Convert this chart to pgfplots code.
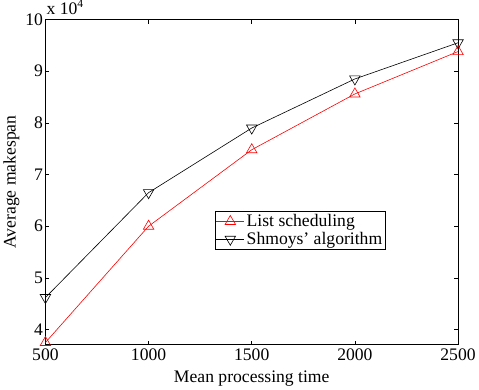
\documentclass[border=0pt]{standalone}
\usepackage{pgfplots}
\pgfplotsset{compat=1.18}
\usepackage{fontspec}
\setmainfont{Liberation Serif}
\newcommand{\f}{\fontsize{17.5}{20}\selectfont}
\begin{document}
\begin{tikzpicture}
\begin{axis}[
  scale only axis,
  width=410pt, height=323pt,
  xmin=500, xmax=2500,
  ymin=37100, ymax=100000,
  scaled x ticks=false, scaled y ticks=false,
  xtick={500,1000,1500,2000,2500},
  xticklabels={500,1000,1500,2000,2500},
  ytick={40000,50000,60000,70000,80000,90000,100000},
  yticklabels={4,5,6,7,8,9,10},
  tick label style={font=\f},
  label style={font=\f},
  tick align=inside,
  major tick length=4pt,
  axis line style={line width=0.9pt},
  tick style={line width=0.6pt, black},
  xlabel={Mean processing time},
  ylabel={Average makespan},
  xlabel style={yshift=-3pt},
  ylabel style={yshift=-1pt},
  yticklabel style={xshift=1pt},
  xticklabel style={yshift=-1pt},
  legend style={at={(0.41,0.41)}, anchor=north west, draw=black, line width=0.6pt, inner sep=1pt, row sep=0pt, font=\f},
  legend cell align=left,
  legend image code/.code={\draw[mark repeat=2,mark phase=2,#1] plot coordinates {(0pt,0pt) (14pt,0pt) (28pt,0pt)};},
  clip=false,
]
\addplot[red, line width=0.6pt, mark=triangle, mark size=6pt, mark options={solid, line width=0.6pt}] coordinates {
(500,37500) (1000,60000) (1500,74800) (2000,85600) (2500,93800)};
\addlegendentry{List scheduling}
\addplot[black, line width=0.6pt, mark=triangle, mark size=6pt, mark options={solid, rotate=180, line width=0.6pt}] coordinates {
(500,46200) (1000,66500) (1500,79000) (2000,88500) (2500,95500)};
\addlegendentry{Shmoys' algorithm}
\node[anchor=base west, inner sep=0pt, font=\f] at ([xshift=1pt,yshift=5pt]rel axis cs:0,1) {x 10\raisebox{0.85ex}{\fontsize{11.5}{12}\selectfont 4}};
\end{axis}
\end{tikzpicture}
\end{document}
